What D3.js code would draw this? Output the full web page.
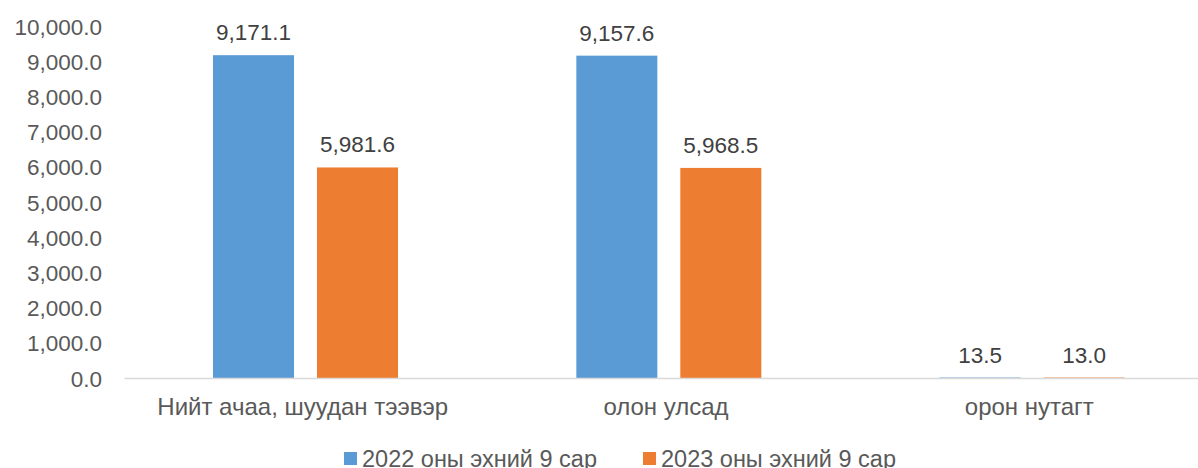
<!DOCTYPE html>
<html><head><meta charset="utf-8">
<script src="https://cdn.jsdelivr.net/npm/d3@7"></script>
<style>body{margin:0;background:#fff;}svg{display:block;font-family:"Liberation Sans",Arial,sans-serif;}</style>
</head><body>
<svg id="c" width="1198" height="468"></svg>
<script>
const categories = ["Нийт ачаа, шуудан тээвэр", "олон улсад", "орон нутагт"];
const seriesNames = ["2022 оны эхний 9 сар", "2023 оны эхний 9 сар"];
const values2022 = [9171.1, 9157.6, 13.5];
const values2023 = [5981.6, 5968.5, 13.0];
const yTicks = [0, 1000, 2000, 3000, 4000, 5000, 6000, 7000, 8000, 9000, 10000];
const colors = ["#5B9BD5", "#ED7D31"];

const svg = d3.select("#c");
const x0 = d3.scaleBand().domain(categories).range([124, 1214]).paddingInner(0).paddingOuter(0);
const x1 = d3.scaleBand().domain(seriesNames).range([89, 274]).paddingInner(0.221);
const y = d3.scaleLinear().domain([0, 10000]).range([378, 26]);
const fmt = d3.format(",.1f");
const txt = "#595959";

// y axis labels
const yAxis = d3.axisLeft(y).tickValues(yTicks).tickFormat(fmt).tickSize(0).tickPadding(0);
const gy = svg.append("g").attr("transform", "translate(102,0)").call(yAxis);
gy.select(".domain").remove();
gy.selectAll("text").attr("fill", txt).style("font-size", "22.5px").attr("dy", "0.36em");

const series = [values2022, values2023];
categories.forEach((c, i) => {
  seriesNames.forEach((s, j) => {
    const v = series[j][i];
    const bx = x0(c) + x1(s);
    svg.append("rect").attr("x", bx).attr("y", y(v)).attr("width", x1.bandwidth())
      .attr("height", y(0) - y(v)).attr("fill", colors[j]);
    svg.append("text").attr("x", bx + x1.bandwidth() / 2).attr("y", y(v) - 15)
      .attr("text-anchor", "middle").attr("fill", "#404040").style("font-size", "22.5px").text(fmt(v));
  });
});

// x axis
const xAxis = d3.axisBottom(x0).tickSize(0).tickPadding(0);
const gx = svg.append("g").attr("transform", "translate(0,378)").call(xAxis);
gx.select(".domain").attr("stroke", "#D9D9D9").attr("stroke-width", 1.5);
gx.selectAll("text").attr("fill", txt).style("font-size", "24px").attr("dy", 0).attr("y", 37).attr("dx", -3);

// legend
const legX = [344, 643];
seriesNames.forEach((s, j) => {
  svg.append("rect").attr("x", legX[j]).attr("y", 452).attr("width", 13).attr("height", 13).attr("fill", colors[j]);
  svg.append("text").attr("x", legX[j] + 18).attr("y", 467).attr("fill", txt).style("font-size", "23.5px").text(s);
});
</script>
</body></html>
